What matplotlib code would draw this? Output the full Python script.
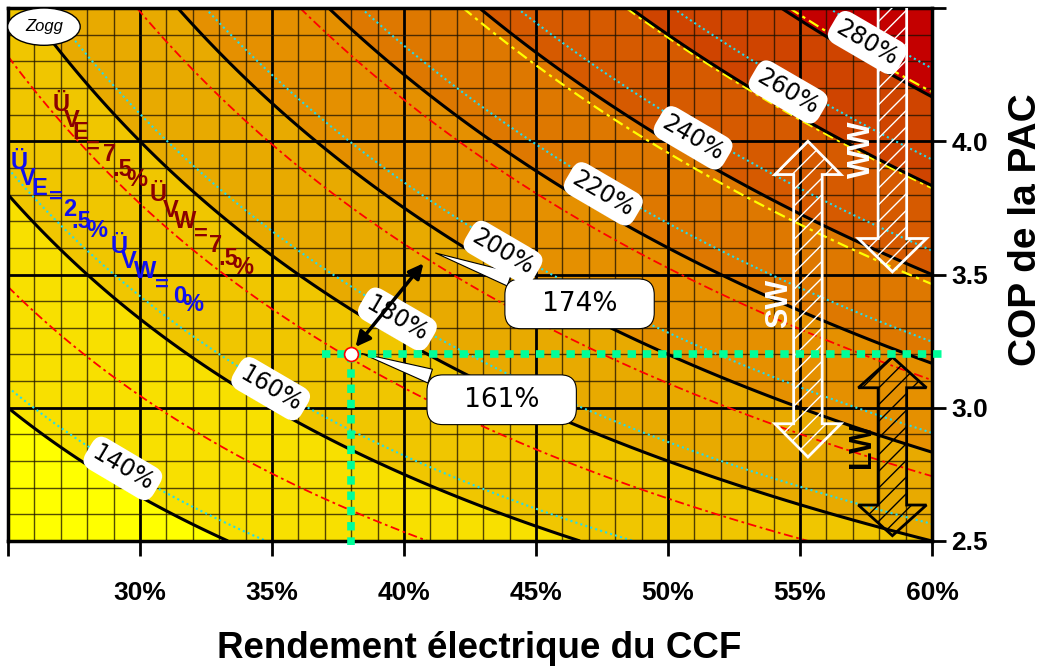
import numpy as np
import matplotlib.pyplot as plt
from matplotlib.patches import Polygon, Ellipse

# axis ranges (electrical efficiency in %, heat pump COP)
eta_lim = [25, 60]
cop_lim = [2.5, 4.5]

# plant: 90% total efficiency, losses for the coloured families
eta_total = 0.90
loss_e_red, loss_w_red = 0.075, 0.075
loss_e_cyan, loss_w_cyan = 0.025, 0.0

black_levels = [1.4, 1.6, 1.8, 2.0, 2.2, 2.4, 2.6, 2.8]
red_levels = [1.4, 1.6, 1.8, 2.0]
yellow_levels = [2.2, 2.4, 2.6]
cyan_levels = [1.4, 1.6, 1.8, 2.0, 2.2, 2.4, 2.6, 2.8]

band_levels = [0, 1.4, 1.6, 1.8, 2.0, 2.2, 2.4, 2.6, 2.8, 5]
band_colors = ['#FFFF00', '#F8E000', '#F0C600', '#E8AA00', '#E59000',
               '#DE7800', '#D65A00', '#CF4400', '#C40000']

# where the contour labels sit (eta %)
label_eta = [29.2, 34.8, 39.6, 43.6, 47.4, 50.8, 54.4, 57.4]

# operating point and arrow
op_eta, op_cop = 38.0, 3.2
target_eta, target_cop = 40.8, 3.55
op_text = '161%'
target_text = '174%'

# SW / WW / LW arrows (x in %, COP range)
sw_x, sw_cop = 55.3, [4.0, 2.815]
ww_x, ww_cop = 58.5, [4.75, 3.51]
lw_x, lw_cop = 58.5, [3.19, 2.52]

x_ticks = [25, 30, 35, 40, 45, 50, 55, 60]
y_ticks = [2.5, 3.0, 3.5, 4.0, 4.5]


def pix(px, py):
    # pixel position in the picture -> data coords
    return 25 + (px - 8) / 26.4, 2.5 + (541 - py) / 266.5


eta = np.linspace(eta_lim[0], eta_lim[1], 500)
cop = np.linspace(cop_lim[0], cop_lim[1], 500)
E, C = np.meshgrid(eta / 100, cop)
T = E * C + (eta_total - E)
R = E * C * (1 - loss_e_red) + (eta_total - E) * (1 - loss_w_red)
Cy = E * C * (1 - loss_e_cyan) + (eta_total - E) * (1 - loss_w_cyan)

fig = plt.figure(figsize=(10.44, 6.69), dpi=100)
ax = fig.add_axes([8 / 1044, 128 / 669, 924 / 1044, 533 / 669])

ax.contourf(eta, cop, T, levels=band_levels, colors=band_colors, zorder=0)

ax.set_xlim(eta_lim)
ax.set_ylim(cop_lim)
ax.set_xticks(x_ticks)
ax.set_yticks(y_ticks)
ax.set_xticks(np.arange(25, 61, 1), minor=True)
ax.set_yticks(np.arange(2.5, 4.51, 0.1), minor=True)
ax.grid(which='major', color='black', lw=2.0, zorder=1)
ax.grid(which='minor', color='#1a1000', lw=1.0, alpha=0.75, zorder=1)

ax.contour(eta, cop, R, levels=red_levels, colors='red', linewidths=1.3,
           linestyles=[(0, (5, 2, 1.5, 2))], zorder=2)
ax.contour(eta, cop, R, levels=yellow_levels, colors='#FFFF00', linewidths=1.6,
           linestyles=[(0, (5, 2, 1.5, 2))], zorder=2)
ax.contour(eta, cop, Cy, levels=cyan_levels, colors='#22DDEE', linewidths=1.5,
           linestyles=[(0, (1, 1.5))], zorder=2)
cs = ax.contour(eta, cop, T, levels=black_levels, colors='black', linewidths=2.2, zorder=3)

manual = [(e, 1 + (lv - eta_total) / (e / 100)) for e, lv in zip(label_eta, black_levels)]
lbls = ax.clabel(cs, black_levels, manual=manual, inline=False, fontsize=17,
                 fmt=lambda v: f'{v * 100:.0f}%')
for t in lbls:
    x, y = t.get_position()
    t.set_position((x + 0.15, y + 0.06))
    t.set_bbox(dict(boxstyle='round,pad=0.25,rounding_size=0.5', fc='white', ec='none'))
    t.set_zorder(6)
    t.set_family('DejaVu Sans')


# loss annotations (staircase text)
def stair(chars, pts, color):
    for ch, p in zip(chars, pts):
        ax.text(*pix(*p), ch, color=color, fontsize=17, fontweight='bold',
                family=['Liberation Sans', 'DejaVu Sans'], ha='center', va='center', zorder=7)


stair(['Ü', 'V', 'E', '=', '7', '.5', '%'],
      [(61, 104), (72, 120), (80, 132), (93, 147), (110, 154), (122, 169), (137, 179)],
      '#8B0000')
stair(['Ü', 'V', 'W', '=', '7', '.5', '%'],
      [(158, 194), (171, 210), (185, 221), (201, 234), (216, 245), (228, 258), (243, 267)],
      '#8B0000')
stair(['Ü', 'V', 'E', '=', '2', '.5', '%'],
      [(19, 162), (28, 178), (39, 188), (56, 197), (70, 209), (81, 221), (97, 230)],
      '#1010EE')
stair(['Ü', 'V', 'W', '=', '0', '%'],
      [(119, 246), (129, 261), (145, 271), (162, 285), (180, 296), (193, 304)],
      '#1010EE')

# green guide lines through the operating point
green = '#00FF99'
ax.plot([36.9, 60.45], [op_cop, op_cop], color=green, lw=5.5,
        linestyle=(0, (1.1, 0.9)), clip_on=False, zorder=8)
ax.plot([op_eta, op_eta], [op_cop, 2.485], color=green, lw=5.5,
        linestyle=(0, (1.1, 0.9)), clip_on=False, zorder=8)

ax.annotate('', xy=(target_eta, target_cop), xytext=(op_eta + 0.1, op_cop + 0.02),
            arrowprops=dict(arrowstyle='<|-|>', color='black', lw=2.5, mutation_scale=22),
            zorder=9)
ax.plot(op_eta, op_cop, 'o', ms=10, mfc='white', mec='red', mew=1.2, zorder=10)

box = dict(boxstyle='round,pad=0.45,rounding_size=0.6', fc='white', ec='black', lw=0.8)
wedge = dict(arrowstyle='wedge,tail_width=0.55', fc='white', ec='black', lw=0.8)
ax.annotate('   ' + target_text + '   ', xy=(41.1, 3.584), xytext=(46.65, 3.39), fontsize=19,
            family='DejaVu Sans', ha='center', va='center', bbox=box, zorder=5,
            arrowprops=wedge)
ax.annotate('   ' + op_text + '   ', xy=(38.3, 3.207), xytext=(43.7, 3.03), fontsize=19,
            family='DejaVu Sans', ha='center', va='center', bbox=box, zorder=5,
            arrowprops=wedge)


def arrow_poly(x, top, bot, up=True, down=True, shaft=1.08, head=2.5, hl=0.125):
    pts = []
    if up:
        pts += [(x - shaft / 2, top - hl), (x - head / 2, top - hl), (x, top),
                (x + head / 2, top - hl), (x + shaft / 2, top - hl)]
    else:
        pts += [(x - shaft / 2, top), (x + shaft / 2, top)]
    if down:
        pts += [(x + shaft / 2, bot + hl), (x + head / 2, bot + hl), (x, bot),
                (x - head / 2, bot + hl), (x - shaft / 2, bot + hl)]
    else:
        pts += [(x + shaft / 2, bot), (x - shaft / 2, bot)]
    return pts


plt.rcParams['hatch.linewidth'] = 1.0
ax.add_patch(Polygon(arrow_poly(sw_x, *sw_cop), closed=True, fill=False,
                     hatch='//', ec='white', lw=2, zorder=5))
ax.add_patch(Polygon(arrow_poly(ww_x, *ww_cop, up=False, head=2.58), closed=True, fill=False,
                     hatch='//', ec='white', lw=2, zorder=5))
ax.add_patch(Polygon(arrow_poly(lw_x, *lw_cop, head=2.58, hl=0.115), closed=True, fill=False,
                     hatch='//', ec='black', lw=2, zorder=5))
ax.text(54.2, 3.39, 'SW', rotation=90, color='white', fontsize=22, fontweight='bold',
        family='Liberation Sans', ha='center', va='center', zorder=7)
ax.text(57.35, 3.97, 'WW', rotation=90, color='white', fontsize=22, fontweight='bold',
        family='Liberation Sans', ha='center', va='center', zorder=7)
ax.text(57.35, 2.86, 'LW', rotation=90, color='black', fontsize=22, fontweight='bold',
        family='Liberation Sans', ha='center', va='center', zorder=7)

# Zogg stamp
ax.add_patch(Ellipse((26.36, 4.43), 2.75, 0.14, fc='white', ec='black', lw=1, zorder=12))
ax.text(26.36, 4.43, 'Zogg', fontsize=12, style='italic', family='Liberation Sans',
        ha='center', va='center', zorder=13)

# axes styling
for s in ax.spines.values():
    s.set_linewidth(2.5)
ax.yaxis.tick_right()
ax.set_xticklabels(['' if v == 25 else f'{v}%' for v in x_ticks])
ax.set_yticklabels(['' if v == 4.5 else f'{v:.1f}' for v in y_ticks])
ax.tick_params(axis='x', which='major', length=11, width=2, direction='out', pad=18)
ax.tick_params(axis='y', which='major', length=10, width=2, direction='out', pad=4)
ax.tick_params(which='minor', length=0)
for t in ax.get_xticklabels() + ax.get_yticklabels():
    t.set_fontsize(19)
    t.set_fontweight('bold')
    t.set_family('Liberation Sans')

fig.text(479 / 1044, 1 - 648 / 669, 'Rendement électrique du CCF', fontsize=26.5,
         fontweight='bold', family='Liberation Sans', ha='center', va='center')
fig.text(1026 / 1044, 1 - 230 / 669, 'COP de la PAC', fontsize=28, rotation=90,
         fontweight='bold', family='Liberation Sans', ha='center', va='center')

fig.savefig('out.png', dpi=100)
